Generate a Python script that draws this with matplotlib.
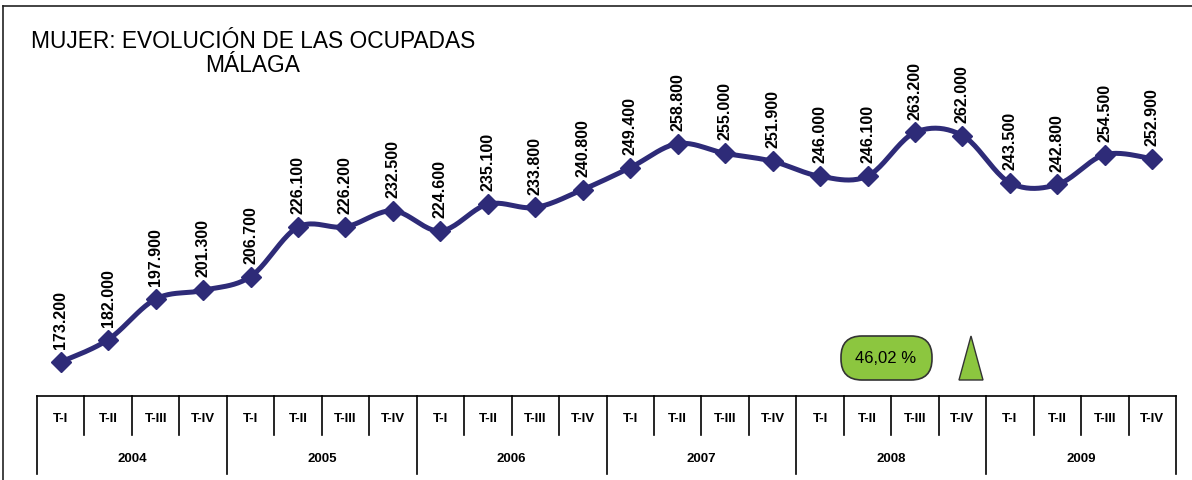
import matplotlib
matplotlib.use("Agg")
import matplotlib.pyplot as plt
from matplotlib.patches import FancyBboxPatch, Polygon
import numpy as np

plt.rcParams['font.family'] = ['Liberation Sans', 'DejaVu Sans']

years = ['2004', '2005', '2006', '2007', '2008', '2009']
quarters = ['T-I', 'T-II', 'T-III', 'T-IV']
ocupadas = [173.2, 182.0, 197.9, 201.3,
            206.7, 226.1, 226.2, 232.5,
            224.6, 235.1, 233.8, 240.8,
            249.4, 258.8, 255.0, 251.9,
            246.0, 246.1, 263.2, 262.0,
            243.5, 242.8, 254.5, 252.9]
labels = ['%.3f' % v for v in ocupadas]
pct_text = '46,02 %'

LINE = '#2E2B78'
GREEN = '#8CC63F'


## Curva suavizada tipo Excel (Catmull-Rom)
def smooth(xs, ys, n=24):
    P = np.column_stack([xs, ys])
    P = np.vstack([P[0], P, P[-1]])
    out = []
    t = np.linspace(0, 1, n)[:, None]
    for i in range(1, len(P) - 2):
        p0, p1, p2, p3 = P[i - 1], P[i], P[i + 1], P[i + 2]
        c = 0.5 * ((2 * p1) + (-p0 + p2) * t + (2 * p0 - 5 * p1 + 4 * p2 - p3) * t ** 2
                   + (-p0 + 3 * p1 - 3 * p2 + p3) * t ** 3)
        out.append(c if i == 1 else c[1:])
    c = np.vstack(out)
    return c[:, 0], c[:, 1]


W, H = 1192, 481
fig = plt.figure(figsize=(W / 100, H / 100), dpi=100)

# capa en pixeles para titulo, marco y recuadro
ov = fig.add_axes([0, 0, 1, 1])
ov.set_xlim(0, W)
ov.set_ylim(H, 0)
ov.axis('off')

x0, x1, ybase = 37, 1176, 397
ax = fig.add_axes([x0 / W, (H - ybase) / H, (x1 - x0) / W, ybase / H])
ax.set_xlim(0, len(ocupadas))
ax.set_ylim(159.9, 315.5)
ax.axis('off')

xs = np.arange(len(ocupadas)) + 0.5
sx, sy = smooth(xs, ocupadas)
ax.plot(sx, sy, color=LINE, lw=3.6, solid_capstyle='round', zorder=2)
ax.plot(xs, ocupadas, ls='none', marker='D', ms=10.5, color=LINE, zorder=3)
for x, v, lab in zip(xs, ocupadas, labels):
    ax.annotate(lab, (x, v), xytext=(0, 10), textcoords='offset points',
                rotation=90, ha='center', va='bottom', fontsize=11.5,
                fontweight='bold', color='black')

# tabla de categorias
tb = fig.add_axes([x0 / W, 0, (x1 - x0) / W, (H - ybase) / H])
tb.set_xlim(0, len(ocupadas))
tb.set_ylim(H - ybase, 0)
tb.axis('off')
kw = dict(color='black', lw=1.2, clip_on=False)
tb.plot([0, len(ocupadas)], [0, 0], **kw)
for i in range(len(ocupadas) + 1):
    bottom = 78 if i % 4 == 0 else 39
    tb.plot([i, i], [0, bottom], **kw)
for i in range(len(ocupadas)):
    tb.text(i + 0.5, 22, quarters[i % 4], ha='center', va='center',
            fontsize=9.5, fontweight='bold')
for j, y in enumerate(years):
    tb.text(j * 4 + 2, 62, y, ha='center', va='center', fontsize=9.5, fontweight='bold')

# titulo
ov.text(253, 41, 'MUJER: EVOLUCIÓN DE LAS OCUPADAS', ha='center', va='center', fontsize=16.4)
ov.text(253, 66, 'MÁLAGA', ha='center', va='center', fontsize=16.4)

# recuadro verde y triangulo
box = FancyBboxPatch((841, 337), 91, 44, boxstyle='round,pad=0,rounding_size=21',
                     facecolor=GREEN, edgecolor='#333333', lw=1.2)
ov.add_patch(box)
ov.text(886, 359, pct_text, ha='center', va='center', fontsize=12)
tri = Polygon([(959, 381), (983, 381), (971, 337)], closed=True,
              facecolor=GREEN, edgecolor='#333333', lw=1.0)
ov.add_patch(tri)

# marco
ov.plot([3, W], [7, 7], color='#222222', lw=1.2)
ov.plot([3, 3], [7, H], color='#222222', lw=1.2)

fig.savefig('out.png', dpi=100)
